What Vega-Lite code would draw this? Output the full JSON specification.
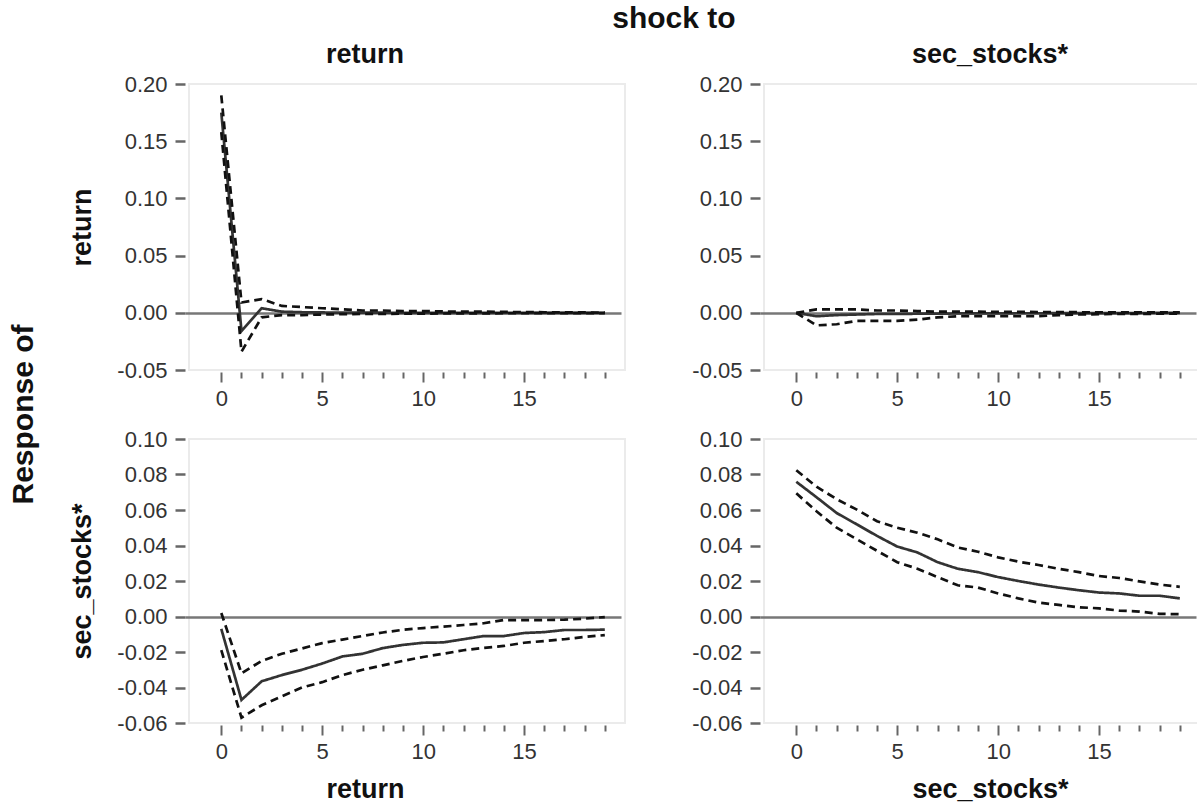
{
  "$schema": "https://vega.github.io/schema/vega-lite/v6.json",
  "padding": {"left": 8, "top": 4, "right": 0, "bottom": 0},
  "background": "white",
  "title": {"text": "shock to", "fontSize": 30, "anchor": "middle", "dx": 69, "offset": 6},
  "datasets": {
    "irf": [
      {"resp":"return","shock":"return","h":0,"irf":0.175,"lo":0.158,"hi":0.19},
      {"resp":"return","shock":"return","h":1,"irf":-0.016,"lo":-0.034,"hi":0.009},
      {"resp":"return","shock":"return","h":2,"irf":0.004,"lo":-0.004,"hi":0.012},
      {"resp":"return","shock":"return","h":3,"irf":0.001,"lo":-0.002,"hi":0.006},
      {"resp":"return","shock":"return","h":4,"irf":0.0005,"lo":-0.002,"hi":0.005},
      {"resp":"return","shock":"return","h":5,"irf":0.0003,"lo":-0.0015,"hi":0.004},
      {"resp":"return","shock":"return","h":6,"irf":0.0002,"lo":-0.0012,"hi":0.003},
      {"resp":"return","shock":"return","h":7,"irf":0.0001,"lo":-0.001,"hi":0.002},
      {"resp":"return","shock":"return","h":8,"irf":0.0001,"lo":-0.001,"hi":0.002},
      {"resp":"return","shock":"return","h":9,"irf":0,"lo":-0.0008,"hi":0.0015},
      {"resp":"return","shock":"return","h":10,"irf":0,"lo":-0.0007,"hi":0.0015},
      {"resp":"return","shock":"return","h":11,"irf":0,"lo":-0.0006,"hi":0.0012},
      {"resp":"return","shock":"return","h":12,"irf":0,"lo":-0.0005,"hi":0.001},
      {"resp":"return","shock":"return","h":13,"irf":0,"lo":-0.0005,"hi":0.001},
      {"resp":"return","shock":"return","h":14,"irf":0,"lo":-0.0004,"hi":0.0008},
      {"resp":"return","shock":"return","h":15,"irf":0,"lo":-0.0004,"hi":0.0006},
      {"resp":"return","shock":"return","h":16,"irf":0,"lo":-0.0003,"hi":0.0005},
      {"resp":"return","shock":"return","h":17,"irf":0,"lo":-0.0003,"hi":0.0004},
      {"resp":"return","shock":"return","h":18,"irf":0,"lo":-0.0002,"hi":0.0003},
      {"resp":"return","shock":"return","h":19,"irf":0,"lo":-0.0002,"hi":0.0002},

      {"resp":"return","shock":"sec_stocks*","h":0,"irf":0,"lo":0,"hi":0},
      {"resp":"return","shock":"sec_stocks*","h":1,"irf":-0.003,"lo":-0.011,"hi":0.003},
      {"resp":"return","shock":"sec_stocks*","h":2,"irf":-0.002,"lo":-0.01,"hi":0.003},
      {"resp":"return","shock":"sec_stocks*","h":3,"irf":-0.0015,"lo":-0.007,"hi":0.003},
      {"resp":"return","shock":"sec_stocks*","h":4,"irf":-0.001,"lo":-0.007,"hi":0.002},
      {"resp":"return","shock":"sec_stocks*","h":5,"irf":-0.001,"lo":-0.007,"hi":0.002},
      {"resp":"return","shock":"sec_stocks*","h":6,"irf":-0.0008,"lo":-0.006,"hi":0.0015},
      {"resp":"return","shock":"sec_stocks*","h":7,"irf":-0.0007,"lo":-0.004,"hi":0.001},
      {"resp":"return","shock":"sec_stocks*","h":8,"irf":-0.0006,"lo":-0.003,"hi":0.001},
      {"resp":"return","shock":"sec_stocks*","h":9,"irf":-0.0005,"lo":-0.003,"hi":0.001},
      {"resp":"return","shock":"sec_stocks*","h":10,"irf":-0.0005,"lo":-0.003,"hi":0.0008},
      {"resp":"return","shock":"sec_stocks*","h":11,"irf":-0.0004,"lo":-0.003,"hi":0.0008},
      {"resp":"return","shock":"sec_stocks*","h":12,"irf":-0.0004,"lo":-0.003,"hi":0.0007},
      {"resp":"return","shock":"sec_stocks*","h":13,"irf":-0.0003,"lo":-0.002,"hi":0.0006},
      {"resp":"return","shock":"sec_stocks*","h":14,"irf":-0.0003,"lo":-0.0015,"hi":0.0005},
      {"resp":"return","shock":"sec_stocks*","h":15,"irf":-0.0002,"lo":-0.0012,"hi":0.0005},
      {"resp":"return","shock":"sec_stocks*","h":16,"irf":-0.0002,"lo":-0.001,"hi":0.0004},
      {"resp":"return","shock":"sec_stocks*","h":17,"irf":-0.0002,"lo":-0.001,"hi":0.0004},
      {"resp":"return","shock":"sec_stocks*","h":18,"irf":-0.0001,"lo":-0.0008,"hi":0.0003},
      {"resp":"return","shock":"sec_stocks*","h":19,"irf":-0.0001,"lo":-0.0007,"hi":0.0003},

      {"resp":"sec_stocks*","shock":"return","h":0,"irf":-0.007,"lo":-0.019,"hi":0.002},
      {"resp":"sec_stocks*","shock":"return","h":1,"irf":-0.047,"lo":-0.057,"hi":-0.032},
      {"resp":"sec_stocks*","shock":"return","h":2,"irf":-0.0365,"lo":-0.05,"hi":-0.025},
      {"resp":"sec_stocks*","shock":"return","h":3,"irf":-0.033,"lo":-0.045,"hi":-0.021},
      {"resp":"sec_stocks*","shock":"return","h":4,"irf":-0.03,"lo":-0.04,"hi":-0.018},
      {"resp":"sec_stocks*","shock":"return","h":5,"irf":-0.0265,"lo":-0.037,"hi":-0.015},
      {"resp":"sec_stocks*","shock":"return","h":6,"irf":-0.0225,"lo":-0.033,"hi":-0.013},
      {"resp":"sec_stocks*","shock":"return","h":7,"irf":-0.021,"lo":-0.03,"hi":-0.011},
      {"resp":"sec_stocks*","shock":"return","h":8,"irf":-0.0178,"lo":-0.0275,"hi":-0.009},
      {"resp":"sec_stocks*","shock":"return","h":9,"irf":-0.016,"lo":-0.025,"hi":-0.0075},
      {"resp":"sec_stocks*","shock":"return","h":10,"irf":-0.0148,"lo":-0.0228,"hi":-0.0065},
      {"resp":"sec_stocks*","shock":"return","h":11,"irf":-0.0146,"lo":-0.021,"hi":-0.0057},
      {"resp":"sec_stocks*","shock":"return","h":12,"irf":-0.0128,"lo":-0.019,"hi":-0.0048},
      {"resp":"sec_stocks*","shock":"return","h":13,"irf":-0.011,"lo":-0.0177,"hi":-0.0038},
      {"resp":"sec_stocks*","shock":"return","h":14,"irf":-0.011,"lo":-0.0166,"hi":-0.002},
      {"resp":"sec_stocks*","shock":"return","h":15,"irf":-0.0093,"lo":-0.0148,"hi":-0.002},
      {"resp":"sec_stocks*","shock":"return","h":16,"irf":-0.0088,"lo":-0.0138,"hi":-0.002},
      {"resp":"sec_stocks*","shock":"return","h":17,"irf":-0.0076,"lo":-0.0128,"hi":-0.0018},
      {"resp":"sec_stocks*","shock":"return","h":18,"irf":-0.0076,"lo":-0.0115,"hi":-0.0012},
      {"resp":"sec_stocks*","shock":"return","h":19,"irf":-0.0074,"lo":-0.0105,"hi":-0.0003},

      {"resp":"sec_stocks*","shock":"sec_stocks*","h":0,"irf":0.0759,"lo":0.0694,"hi":0.0824},
      {"resp":"sec_stocks*","shock":"sec_stocks*","h":1,"irf":0.0672,"lo":0.0593,"hi":0.0731},
      {"resp":"sec_stocks*","shock":"sec_stocks*","h":2,"irf":0.0583,"lo":0.05,"hi":0.0661},
      {"resp":"sec_stocks*","shock":"sec_stocks*","h":3,"irf":0.0519,"lo":0.0435,"hi":0.0602},
      {"resp":"sec_stocks*","shock":"sec_stocks*","h":4,"irf":0.0454,"lo":0.037,"hi":0.0537},
      {"resp":"sec_stocks*","shock":"sec_stocks*","h":5,"irf":0.0394,"lo":0.0306,"hi":0.05},
      {"resp":"sec_stocks*","shock":"sec_stocks*","h":6,"irf":0.0361,"lo":0.0269,"hi":0.0472},
      {"resp":"sec_stocks*","shock":"sec_stocks*","h":7,"irf":0.0306,"lo":0.0222,"hi":0.0435},
      {"resp":"sec_stocks*","shock":"sec_stocks*","h":8,"irf":0.0269,"lo":0.0176,"hi":0.0389},
      {"resp":"sec_stocks*","shock":"sec_stocks*","h":9,"irf":0.025,"lo":0.0163,"hi":0.0365},
      {"resp":"sec_stocks*","shock":"sec_stocks*","h":10,"irf":0.0222,"lo":0.013,"hi":0.0333},
      {"resp":"sec_stocks*","shock":"sec_stocks*","h":11,"irf":0.02,"lo":0.0102,"hi":0.0309},
      {"resp":"sec_stocks*","shock":"sec_stocks*","h":12,"irf":0.018,"lo":0.0078,"hi":0.029},
      {"resp":"sec_stocks*","shock":"sec_stocks*","h":13,"irf":0.0163,"lo":0.0065,"hi":0.0269},
      {"resp":"sec_stocks*","shock":"sec_stocks*","h":14,"irf":0.0148,"lo":0.0052,"hi":0.025},
      {"resp":"sec_stocks*","shock":"sec_stocks*","h":15,"irf":0.0135,"lo":0.0046,"hi":0.0228},
      {"resp":"sec_stocks*","shock":"sec_stocks*","h":16,"irf":0.013,"lo":0.0033,"hi":0.0217},
      {"resp":"sec_stocks*","shock":"sec_stocks*","h":17,"irf":0.0117,"lo":0.0028,"hi":0.0198},
      {"resp":"sec_stocks*","shock":"sec_stocks*","h":18,"irf":0.0117,"lo":0.0015,"hi":0.018},
      {"resp":"sec_stocks*","shock":"sec_stocks*","h":19,"irf":0.0102,"lo":0.0013,"hi":0.0167}
    ]
  },
  "config": {
    "font": "Liberation Sans",
    "view": {"stroke": "#ebebeb", "strokeWidth": 2},
    "axis": {"domain": false, "labelFont": "Liberation Sans", "labelFontSize": 22, "labelColor": "#333333", "tickColor": "#666666", "titleFont": "Liberation Sans", "titleFontSize": 27, "titleFontWeight": "bold", "titleColor": "#111111", "labelOverlap": false, "labelFlush": false},
    "axisX": {"offset": 2, "tickWidth": 2, "labelPadding": 6, "titlePadding": 14, "grid": false},
    "axisY": {"offset": 4, "tickWidth": 2.5, "tickSize": 10, "labelPadding": 8, "titlePadding": 20, "grid": true, "gridColor": "#777777", "gridWidth": 2.5},
    "title": {"font": "Liberation Sans", "fontSize": 27, "fontWeight": "bold", "color": "#111111", "offset": 4},
    "line": {"strokeWidth": 2.7}
  },
  "vconcat": [
    {
      "title": {"text": "Response of", "orient": "left", "anchor": "middle", "fontSize": 30, "offset": 29, "dx": 7},
      "spacing": 17,
      "vconcat": [
        {
          "spacing": 64,
          "hconcat": [
            {
              "width": 436, "height": 286,
              "title": {"text": "return", "dx": -42},
              "data": {"name": "irf"},
              "transform": [{"filter": "datum.resp === 'return' && datum.shock === 'return'"}, {"fold": ["irf", "lo", "hi"], "as": ["series", "v"]}],
              "mark": {"type": "line"},
              "encoding": {
                "x": {"field": "h", "type": "quantitative", "scale": {"domain": [-1.6, 20], "nice": false, "zero": false},
                  "axis": {"title": null, "values": [0,1,2,3,4,5,6,7,8,9,10,11,12,13,14,15,16,17,18,19], "labelExpr": "datum.value % 5 === 0 ? datum.label : ''", "tickSize": {"condition": {"test": "datum.value % 5 === 0", "value": 10}, "value": 6}}},
                "y": {"field": "v", "type": "quantitative", "scale": {"domain": [-0.05, 0.2], "nice": false, "zero": false},
                  "axis": {"title": "return", "values": [-0.05, 0, 0.05, 0.1, 0.15, 0.2], "labelExpr": "datum.value < 0 ? '-' + format(-datum.value, '.2f') : format(datum.value, '.2f')", "gridOpacity": {"condition": {"test": "datum.value === 0", "value": 1}, "value": 0}}},
                "color": {"field": "series", "type": "nominal", "scale": {"domain": ["irf", "lo", "hi"], "range": ["#333333", "#111111", "#111111"]}, "legend": null},
                "strokeDash": {"field": "series", "type": "nominal", "scale": {"domain": ["irf", "lo", "hi"], "range": [[1, 0], [8, 5], [8, 5]]}, "legend": null}
              }
            },
            {
              "width": 436, "height": 286,
              "title": {"text": "sec_stocks*", "dx": 8},
              "data": {"name": "irf"},
              "transform": [{"filter": "datum.resp === 'return' && datum.shock === 'sec_stocks*'"}, {"fold": ["irf", "lo", "hi"], "as": ["series", "v"]}],
              "mark": {"type": "line"},
              "encoding": {
                "x": {"field": "h", "type": "quantitative", "scale": {"domain": [-1.6, 20], "nice": false, "zero": false},
                  "axis": {"title": null, "values": [0,1,2,3,4,5,6,7,8,9,10,11,12,13,14,15,16,17,18,19], "labelExpr": "datum.value % 5 === 0 ? datum.label : ''", "tickSize": {"condition": {"test": "datum.value % 5 === 0", "value": 10}, "value": 6}}},
                "y": {"field": "v", "type": "quantitative", "scale": {"domain": [-0.05, 0.2], "nice": false, "zero": false},
                  "axis": {"title": null, "values": [-0.05, 0, 0.05, 0.1, 0.15, 0.2], "labelExpr": "datum.value < 0 ? '-' + format(-datum.value, '.2f') : format(datum.value, '.2f')", "gridOpacity": {"condition": {"test": "datum.value === 0", "value": 1}, "value": 0}}},
                "color": {"field": "series", "type": "nominal", "scale": {"domain": ["irf", "lo", "hi"], "range": ["#333333", "#111111", "#111111"]}, "legend": null},
                "strokeDash": {"field": "series", "type": "nominal", "scale": {"domain": ["irf", "lo", "hi"], "range": [[1, 0], [8, 5], [8, 5]]}, "legend": null}
              }
            }
          ]
        },
        {
          "spacing": 64,
          "hconcat": [
            {
              "width": 436, "height": 284,
              "data": {"name": "irf"},
              "transform": [{"filter": "datum.resp === 'sec_stocks*' && datum.shock === 'return'"}, {"fold": ["irf", "lo", "hi"], "as": ["series", "v"]}],
              "mark": {"type": "line"},
              "encoding": {
                "x": {"field": "h", "type": "quantitative", "scale": {"domain": [-1.6, 20], "nice": false, "zero": false},
                  "axis": {"title": "return", "titleX": 176, "values": [0,1,2,3,4,5,6,7,8,9,10,11,12,13,14,15,16,17,18,19], "labelExpr": "datum.value % 5 === 0 ? datum.label : ''", "tickSize": {"condition": {"test": "datum.value % 5 === 0", "value": 10}, "value": 6}}},
                "y": {"field": "v", "type": "quantitative", "scale": {"domain": [-0.06, 0.1], "nice": false, "zero": false},
                  "axis": {"title": "sec_stocks*", "values": [-0.06, -0.04, -0.02, 0, 0.02, 0.04, 0.06, 0.08, 0.1], "labelExpr": "datum.value < 0 ? '-' + format(-datum.value, '.2f') : format(datum.value, '.2f')", "gridOpacity": {"condition": {"test": "datum.value === 0", "value": 1}, "value": 0}}},
                "color": {"field": "series", "type": "nominal", "scale": {"domain": ["irf", "lo", "hi"], "range": ["#333333", "#111111", "#111111"]}, "legend": null},
                "strokeDash": {"field": "series", "type": "nominal", "scale": {"domain": ["irf", "lo", "hi"], "range": [[1, 0], [8, 5], [8, 5]]}, "legend": null}
              }
            },
            {
              "width": 436, "height": 284,
              "data": {"name": "irf"},
              "transform": [{"filter": "datum.resp === 'sec_stocks*' && datum.shock === 'sec_stocks*'"}, {"fold": ["irf", "lo", "hi"], "as": ["series", "v"]}],
              "mark": {"type": "line"},
              "encoding": {
                "x": {"field": "h", "type": "quantitative", "scale": {"domain": [-1.6, 20], "nice": false, "zero": false},
                  "axis": {"title": "sec_stocks*", "titleX": 226, "values": [0,1,2,3,4,5,6,7,8,9,10,11,12,13,14,15,16,17,18,19], "labelExpr": "datum.value % 5 === 0 ? datum.label : ''", "tickSize": {"condition": {"test": "datum.value % 5 === 0", "value": 10}, "value": 6}}},
                "y": {"field": "v", "type": "quantitative", "scale": {"domain": [-0.06, 0.1], "nice": false, "zero": false},
                  "axis": {"title": null, "values": [-0.06, -0.04, -0.02, 0, 0.02, 0.04, 0.06, 0.08, 0.1], "labelExpr": "datum.value < 0 ? '-' + format(-datum.value, '.2f') : format(datum.value, '.2f')", "gridOpacity": {"condition": {"test": "datum.value === 0", "value": 1}, "value": 0}}},
                "color": {"field": "series", "type": "nominal", "scale": {"domain": ["irf", "lo", "hi"], "range": ["#333333", "#111111", "#111111"]}, "legend": null},
                "strokeDash": {"field": "series", "type": "nominal", "scale": {"domain": ["irf", "lo", "hi"], "range": [[1, 0], [8, 5], [8, 5]]}, "legend": null}
              }
            }
          ]
        }
      ]
    }
  ]
}
